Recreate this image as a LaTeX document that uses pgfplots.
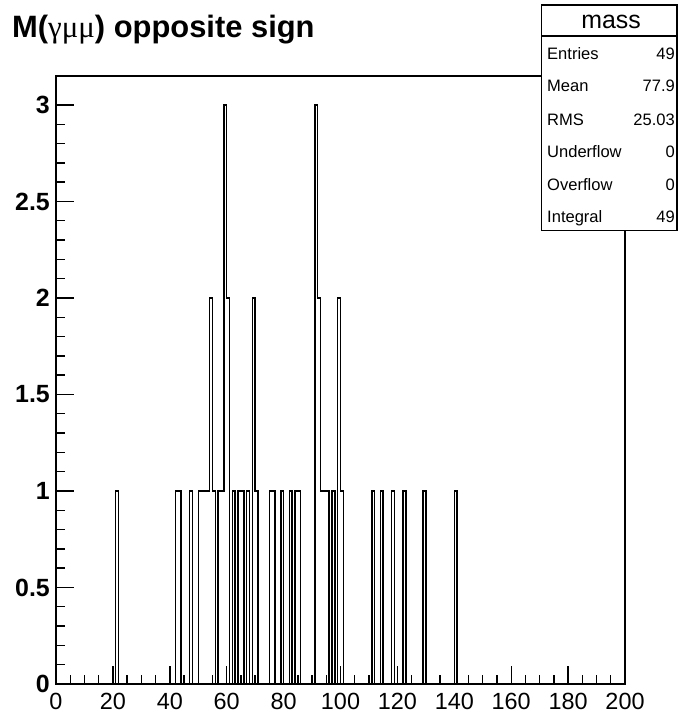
\documentclass[border=0pt]{standalone}
\usepackage{pgfplots}
\pgfplotsset{compat=1.18}
\usepackage{fontspec}
\setmainfont{Liberation Sans}
\newfontfamily\symfont{Liberation Serif}
\begin{document}
\begin{tikzpicture}[x=1bp,y=1bp]
\path[use as bounding box] (0,0) rectangle (678,720);
\begin{axis}[
  at={(56bp,36bp)}, anchor=south west, scale only axis,
  width=569bp, height=608bp,
  xmin=0, xmax=200, ymin=0, ymax=3.15,
  axis line style={line width=1.6bp},
  xtick={0,20,40,60,80,100,120,140,160,180,200}, minor x tick num=3,
  ytick={0,0.5,1,1.5,2,2.5,3}, minor y tick num=4,
  tick align=inside, xtick pos=bottom, ytick pos=left,
  major tick length=18bp, minor tick length=9bp,
  every tick/.style={line width=1.4bp, black},
  /pgf/number format/assume math mode=true,
  xticklabel style={font=\fontsize{23.5}{24}\selectfont, inner sep=0pt, yshift=-9bp, anchor=north},
  yticklabel style={font=\fontsize{25}{25}\selectfont\bfseries, inner sep=0pt, xshift=-6bp, anchor=east},
]
\addplot[const plot, line width=1.5bp, black, mark=none] coordinates {
(0,0) (21,1) (22,0) (42,1) (44,0) (47,1) (48,0) (50,1) (54,2) (55,1) (56,0)
(57,1) (59,3) (60,2) (61,0) (62,1) (63,0) (64,1) (66,0) (67,1) (68,0)
(69,2) (70,1) (71,0) (75,1) (77,0) (79,1) (80,0) (82,1) (83,0) (84,1) (86,0)
(91,3) (92,2) (93,1) (96,0) (97,1) (98,0) (99,2) (100,1) (101,0)
(111,1) (112,0) (114,1) (115,0) (118,1) (119,0) (122,1) (123,0)
(129,1) (130,0) (140,1) (141,0) (200,0)
};
\end{axis}
\node[anchor=base west, inner sep=0pt] at (12,682) {\fontsize{31}{31}\selectfont\bfseries M({\symfont\mdseries γμμ}) opposite sign};
\draw[line width=1.4bp, fill=white] (541.5,489.5) rectangle (677,715);
\draw[line width=1.4bp] (541.5,684) -- (677,684);
\node[font=\fontsize{25}{25}\selectfont, inner sep=0pt, anchor=base] at (611,691.5) {mass};
\foreach \lab/\val/\yy in {Entries/49/660.7, Mean/77.9/628, RMS/25.03/594.7, Underflow/0/562.3, Overflow/0/529.7, Integral/49/497.3}{
  \node[font=\fontsize{16.6}{17}\selectfont, anchor=base west, inner sep=0pt] at (547,\yy) {\lab};
  \node[font=\fontsize{16.6}{17}\selectfont, anchor=base east, inner sep=0pt] at (675,\yy) {\val};
}
\end{tikzpicture}
\end{document}
